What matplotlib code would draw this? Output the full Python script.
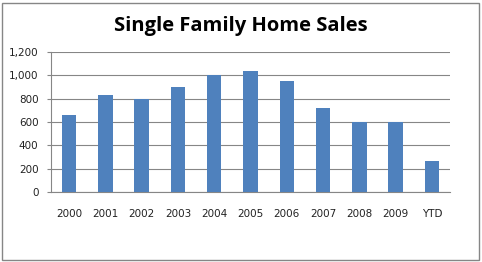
import matplotlib
matplotlib.use('Agg')
import matplotlib.pyplot as plt
from matplotlib.patches import Rectangle

# data
years = ['2000', '2001', '2002', '2003', '2004', '2005', '2006', '2007', '2008', '2009', 'YTD']
sales = [664, 835, 798, 903, 1006, 1034, 949, 724, 598, 598, 262]
yticks = [0, 200, 400, 600, 800, 1000, 1200]

fig = plt.figure(figsize=(4.82, 2.62), dpi=100)
ax = fig.add_axes([51/482, 1 - 192/262, (450-51)/482, (192-52)/262])

ax.bar(range(len(years)), sales, width=0.4, color='#4F81BD', zorder=3)
ax.set_xlim(-0.5, len(years) - 0.5)
ax.set_ylim(0, 1200)
ax.set_yticks(yticks)
ax.set_yticklabels(['{:,}'.format(v) for v in yticks])
ax.set_xticks(range(len(years)))
ax.set_xticklabels(years)

ax.grid(axis='y', color='#868686', linewidth=0.8, zorder=0)
for s in ['top', 'right']:
    ax.spines[s].set_visible(False)
for s in ['left', 'bottom']:
    ax.spines[s].set_color('#868686')
    ax.spines[s].set_linewidth(0.8)
ax.tick_params(axis='y', length=3, color='#868686', labelsize=7.5, pad=6, labelcolor='#222222')
ax.tick_params(axis='x', length=0, labelsize=7.5, pad=12, labelcolor='#222222')
for lab in ax.get_xticklabels() + ax.get_yticklabels():
    lab.set_family('DejaVu Sans')

fig.text(0.5, 1 - 26/262, 'Single Family Home Sales', ha='center', va='center',
         fontsize=14.5, fontweight='bold', family='Open Sans')

# chart border
fig.patches.append(Rectangle((2/482, 2/262), 477/482, 257/262, transform=fig.transFigure,
                             fill=False, edgecolor='#868686', linewidth=1))

fig.savefig('out.png', dpi=100)
